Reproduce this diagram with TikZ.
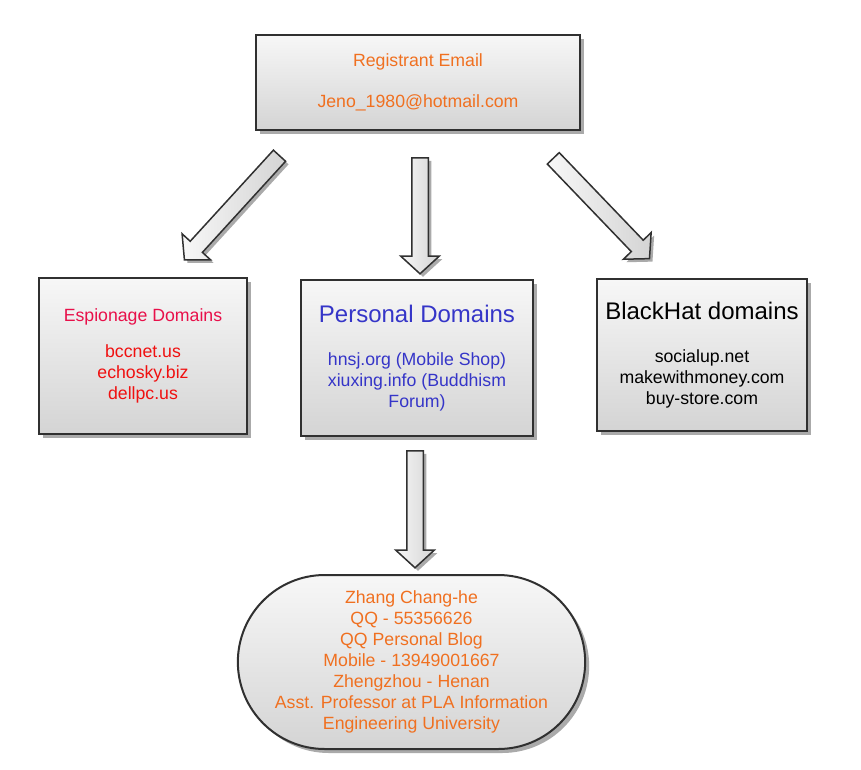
\documentclass[tikz,border=0pt]{standalone}
\usepackage{fontspec}
\setmainfont{Liberation Sans}
\usetikzlibrary{shapes.misc,shapes.arrows,shadows}
\definecolor{orng}{RGB}{240,112,32}
\definecolor{crims}{RGB}{232,16,74}
\definecolor{redd}{RGB}{240,16,16}
\definecolor{bluu}{RGB}{53,53,200}
\definecolor{edge}{RGB}{48,48,48}
\definecolor{shad}{RGB}{170,170,170}
\definecolor{fillTop}{RGB}{247,247,247}
\definecolor{fillBot}{RGB}{212,212,212}
\tikzset{
  panel/.style={draw=edge, line width=2pt, top color=fillTop, bottom color=fillBot,
    drop shadow={shadow xshift=4pt, shadow yshift=-4pt, fill=shad, opacity=1},
    align=center, inner sep=0pt, font=\fontsize{17.7}{21}\selectfont},
  blockarrow/.style={single arrow, draw=edge, line width=1.5pt,
    left color=fillTop, right color=fillBot,
    drop shadow={shadow xshift=3pt, shadow yshift=-3pt, fill=shad, opacity=1},
    inner xsep=0pt, inner ysep=7.5pt, single arrow head extend=11pt,
    single arrow tip angle=95, outer sep=0pt}
}
\begin{document}
\begin{tikzpicture}[x=1pt,y=-1pt]
\useasboundingbox (0,0) rectangle (861,770);
\fill[white] (0,0) rectangle (861,770);

\node[panel, minimum width=324pt, minimum height=95pt, text=orng] (top) at (418,82.5)
  {Registrant Email\\[20pt]Jeno\_1980@hotmail.com};

\node[panel, minimum width=208pt, minimum height=156pt] (esp) at (143,356)
  {\textcolor{crims}{Espionage Domains}\\[15pt]\textcolor{redd}{bccnet.us}\\\textcolor{redd}{echosky.biz}\\\textcolor{redd}{dellpc.us}};

\node[panel, minimum width=232pt, minimum height=156pt, text=bluu] (pers) at (417,358)
  {{\fontsize{24}{28}\selectfont Personal Domains}\\[21.7pt]hnsj.org (Mobile Shop)\\xiuxing.info (Buddhism\\Forum)};

\node[panel, minimum width=210pt, minimum height=152pt, text=black] (bh) at (702,355)
  {{\fontsize{24}{28}\selectfont BlackHat domains}\\[22.7pt]socialup.net\\makewithmoney.com\\buy-store.com};

\node[panel, rounded rectangle, minimum width=341pt, minimum height=174pt, text=orng] (person) at (411.5,662)
  {Zhang Chang-he\\QQ - 55356626\\QQ Personal Blog\\Mobile - 13949001667\\Zhengzhou - Henan\\Asst. Professor at PLA Information\\Engineering University};

\node[blockarrow, minimum height=141pt, rotate=227.6] (arrL) at (234.5,205) {};
\node[blockarrow, minimum height=116pt, rotate=-90] (arrM) at (420,212) {};
\node[blockarrow, minimum height=139pt, rotate=-46.2] (arrR) at (598.75,205.75) {};
\node[blockarrow, minimum height=117pt, rotate=-90] (arrB) at (415,505.5) {};
\end{tikzpicture}
\end{document}
